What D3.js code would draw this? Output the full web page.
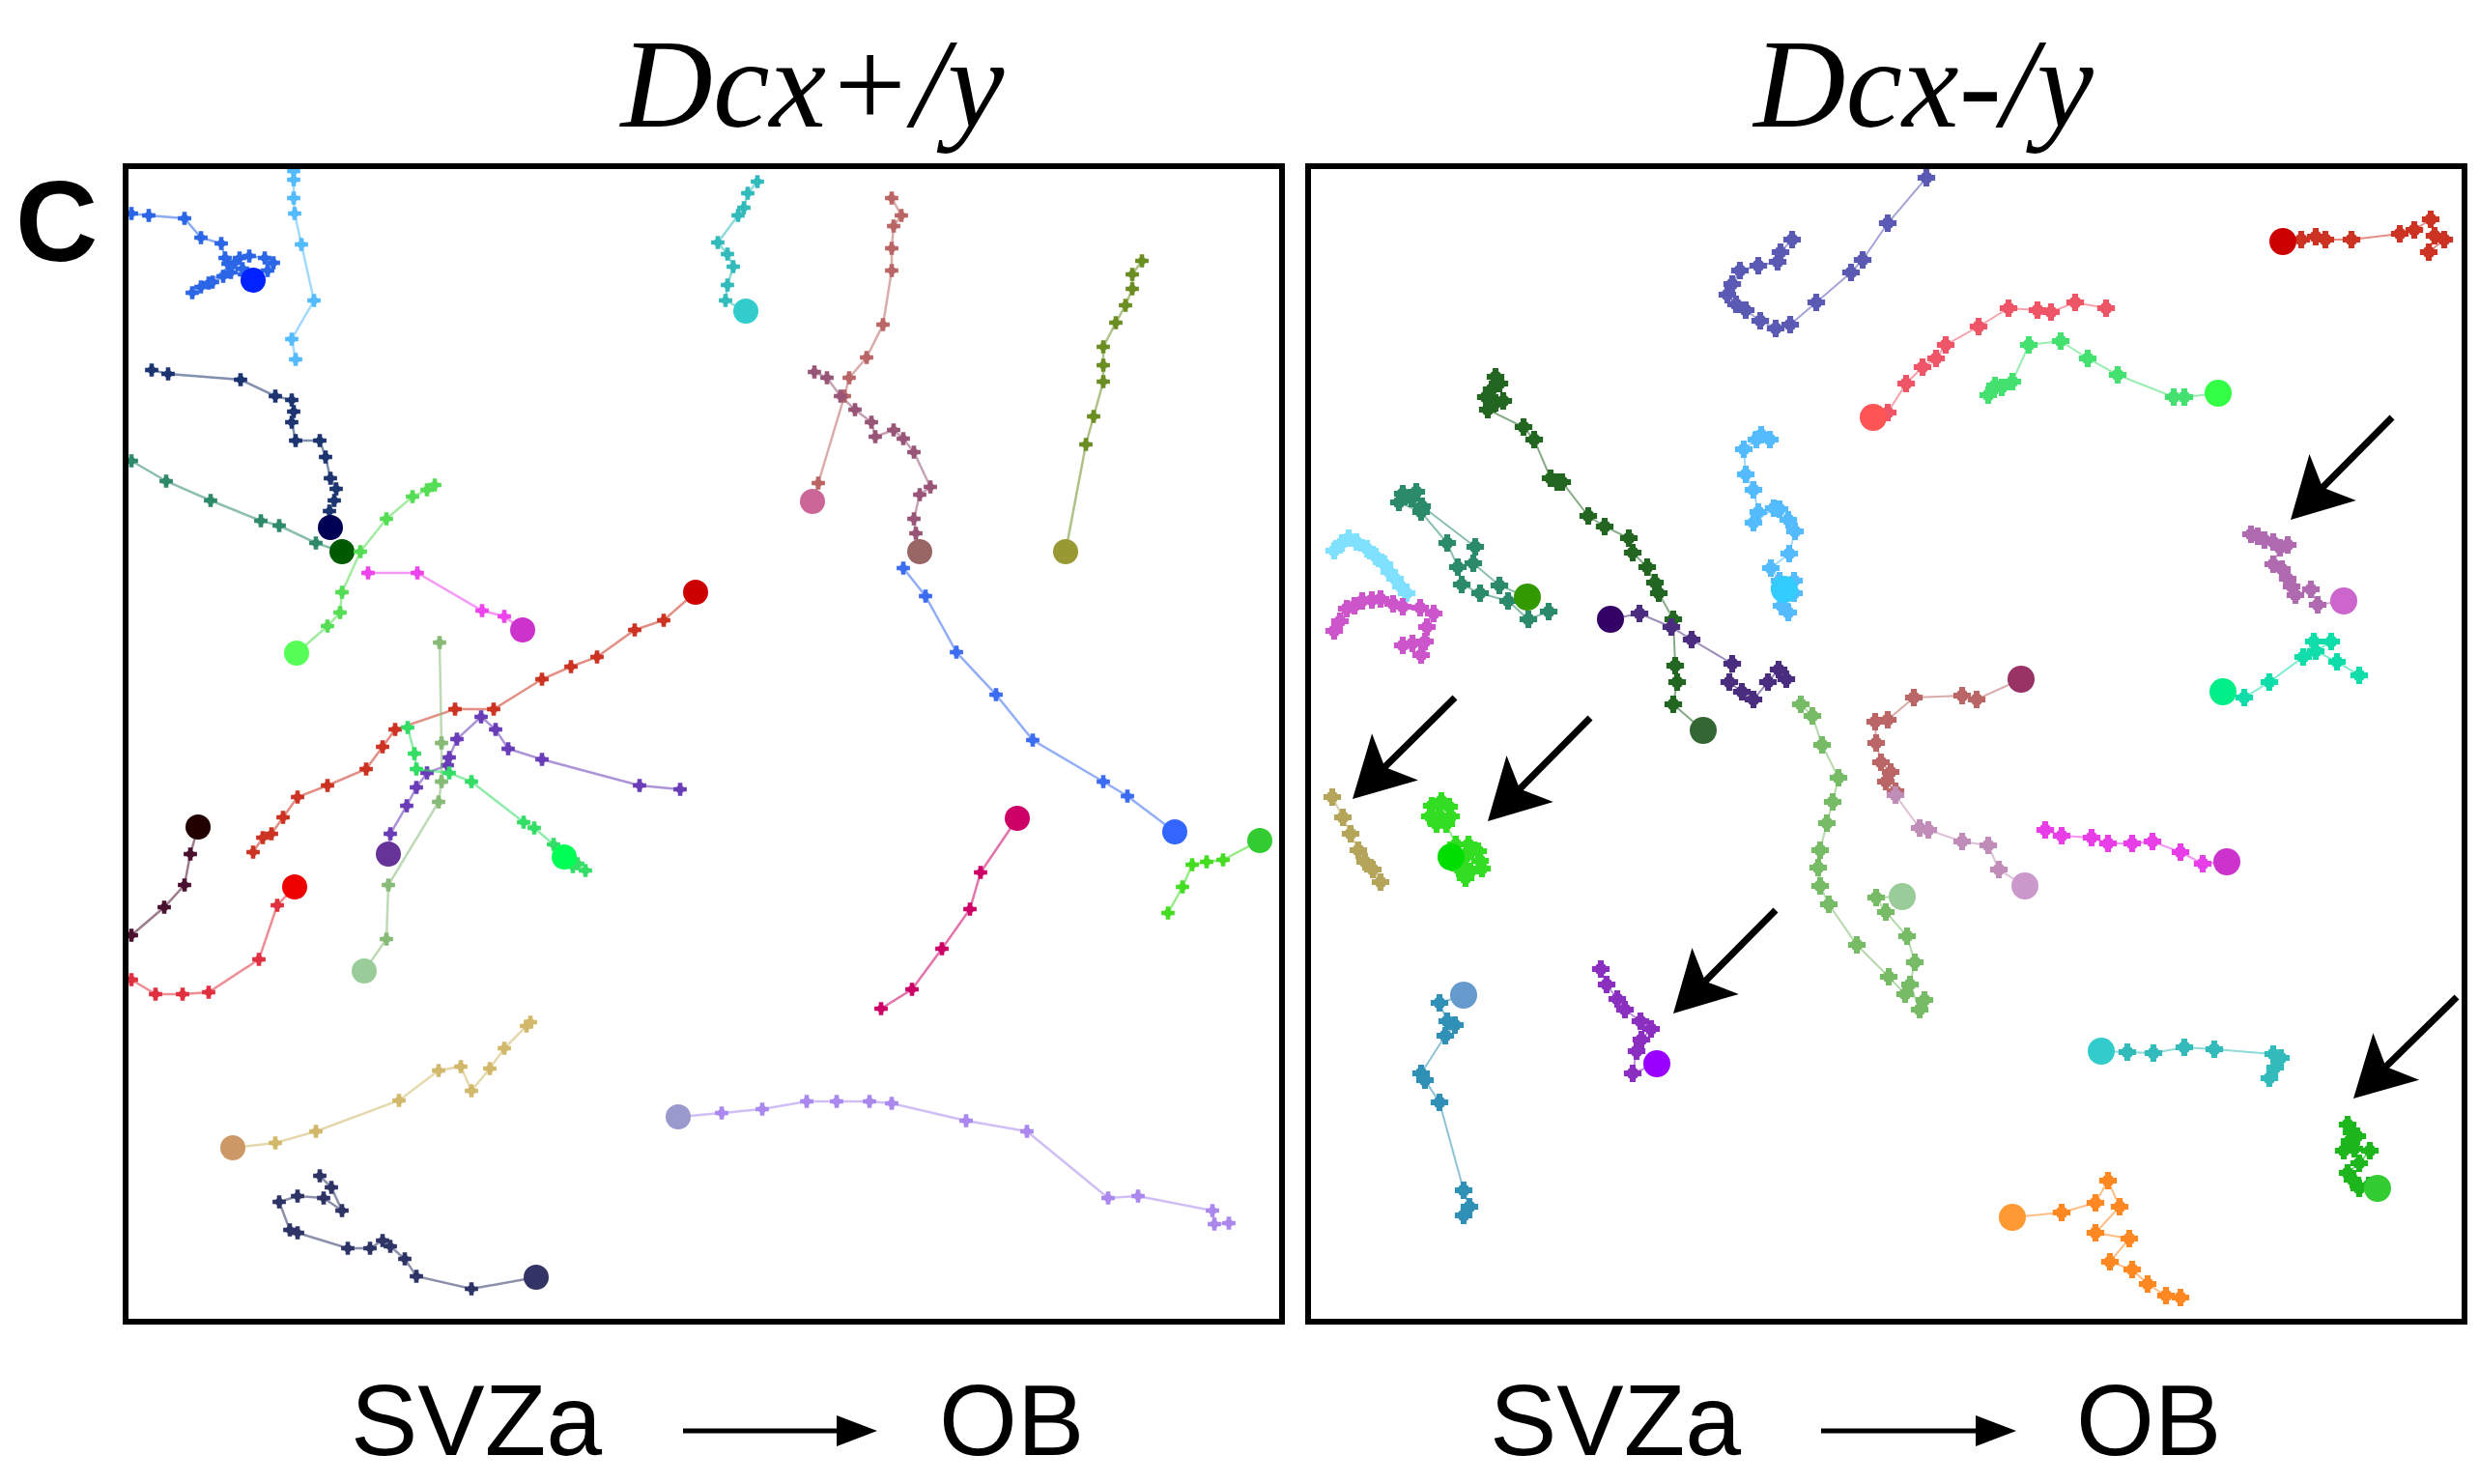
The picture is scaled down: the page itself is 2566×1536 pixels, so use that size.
<!DOCTYPE html>
<html><head><meta charset="utf-8">
<script src="https://cdn.jsdelivr.net/npm/d3@7"></script>
<style>html,body{margin:0;padding:0;background:#fff;overflow:hidden}</style>
</head><body><svg id="c" width="2566" height="1536"></svg>
<script>
// ---------- DATA ----------
const panelTitles = ["Dcx+/y", "Dcx-/y"];
const panelLetter = "C";
const axisLabels = ["SVZa", "OB"];

// Left panel (Dcx+/y) tracks, coordinates in field units (0..1200, y down); big dot = last point
const leftTracks = [
  [[8,52],[26,54],[63,57],[80,77],[101,83],[105,98],[115,103],[130,96],[146,98],[155,103],[149,111],[123,109],[103,117],[108,104],[120,98],[88,124],[71,134],[80,128],[92,123],[111,113],[125,115],[134,121]],
  [[176,8],[176,17],[176,36],[177,52],[184,84],[197,142],[174,182],[178,203]],
  [[29,214],[46,218],[121,224],[157,241],[174,245],[176,257],[174,268],[178,287],[203,287],[209,304],[214,326],[220,337],[218,349],[213,360],[214,377]],
  [[8,308],[44,329],[90,349],[142,370],[161,375],[199,393],[226,402]],
  [[322,333],[314,338],[299,345],[272,368],[245,402],[226,444],[224,465],[211,479],[179,507]],
  [[253,424],[304,424],[371,463],[394,469],[413,483]],
  [[134,713],[144,698],[153,694],[165,677],[180,656],[211,644],[251,627],[268,604],[281,586],[343,565],[383,565],[433,534],[463,521],[490,511],[529,483],[559,473],[592,444]],
  [[576,648],[534,644],[433,617],[398,606],[385,586],[370,573],[345,596],[337,615],[335,623],[314,631],[303,646],[293,665],[276,694],[274,715]],
  [[327,496],[329,600],[329,640],[326,661],[274,747],[272,803],[249,836]],
  [[294,584],[301,611],[303,627],[337,631],[360,640],[414,682],[425,688],[445,705],[470,725],[478,732],[465,728],[456,718]],
  [[8,799],[42,770],[63,747],[69,715],[77,687]],
  [[8,845],[33,860],[61,860],[88,858],[140,824],[159,768],[177,749]],
  [[421,889],[417,893],[394,916],[379,937],[360,960],[349,935],[326,939],[285,970],[199,1002],[157,1014],[113,1019]],
  [[203,1048],[215,1060],[226,1084],[207,1071],[180,1069],[161,1075],[172,1104],[180,1107],[232,1123],[255,1123],[268,1115],[276,1121],[291,1134],[303,1152],[360,1165],[427,1153]],
  [[1144,1097],[1129,1098],[1127,1084],[1050,1069],[1019,1071],[935,1002],[872,991],[795,973],[772,971],[738,971],[707,971],[661,979],[619,983],[574,987]],
  [[656,19],[646,31],[642,46],[636,54],[615,82],[625,94],[631,107],[625,126],[623,142],[644,153]],
  [[795,36],[805,54],[797,65],[795,88],[795,111],[786,167],[769,201],[751,222],[746,241],[719,331],[713,350]],
  [[715,216],[728,222],[742,241],[757,255],[774,268],[778,283],[797,276],[807,285],[818,299],[835,335],[824,343],[818,368],[820,383],[824,402]],
  [[1054,101],[1044,115],[1044,130],[1037,147],[1027,165],[1014,190],[1014,209],[1014,226],[1004,262],[996,291],[975,402]],
  [[807,419],[830,448],[862,506],[903,550],[941,597],[1014,640],[1039,655],[1088,692]],
  [[784,875],[816,855],[847,813],[876,772],[887,734],[925,678]],
  [[1081,776],[1096,749],[1106,726],[1121,723],[1138,721],[1176,701]]
];
const leftHasDot = [1,0,1,1,1,1,1,1,1,1,1,1,1,1,1,1,1,1,1,1,1,1];

// Right panel (Dcx-/y) tracks
const rightTracks = [
  [[642,15],[602,62],[576,100],[564,113],[528,144],[501,167],[486,171],[470,163],[455,152],[445,146],[436,136],[441,125],[449,111],[468,106],[488,102],[491,92],[503,79]],
  [[196,221],[200,228],[192,234],[186,242],[196,248],[204,246],[188,255],[225,273],[236,286],[253,326],[260,330],[265,330],[292,365],[309,376],[334,388],[338,403],[353,418],[361,434],[365,445],[380,472],[382,520],[384,537],[380,560],[411,587]],
  [[251,464],[230,472],[209,453],[180,445],[161,436],[157,418],[146,393],[119,361],[96,351],[109,347],[114,340],[100,342],[120,355],[175,397],[173,414],[200,437],[229,449]],
  [[29,401],[37,393],[44,388],[52,392],[63,399],[72,407],[81,415],[86,423],[92,430],[98,438],[104,445]],
  [[29,484],[35,474],[42,461],[50,458],[58,453],[68,452],[77,451],[90,456],[100,459],[118,460],[132,466],[125,480],[123,495],[110,497],[100,499],[119,509]],
  [[497,534],[489,524],[478,537],[463,555],[451,547],[438,537],[441,518],[399,493],[378,480],[345,466],[315,472]],
  [[512,560],[524,572],[534,602],[551,636],[545,661],[539,683],[532,711],[530,729],[532,748],[541,767],[570,809],[603,842],[620,860],[640,866],[635,876],[625,850],[630,827],[622,800],[600,775],[590,760],[617,759]],
  [[471,281],[480,286],[466,286],[453,296],[455,322],[463,338],[468,361],[463,372],[484,357],[490,358],[499,369],[506,381],[500,404],[481,419],[490,432],[505,432],[490,440],[505,445],[492,458],[499,465],[495,441]],
  [[1178,79],[1162,92],[1168,75],[1164,58],[1147,69],[1132,73],[1082,79],[1055,79],[1045,76],[1030,79],[1011,81]],
  [[828,150],[796,144],[771,154],[757,152],[727,150],[696,169],[662,188],[652,202],[638,211],[621,228],[602,258],[587,263]],
  [[706,240],[713,230],[720,232],[731,226],[748,188],[781,184],[809,202],[840,219],[898,242],[909,242],[944,238]],
  [[978,384],[985,386],[992,390],[1001,392],[1016,395],[1008,398],[1001,415],[1010,420],[1016,430],[1020,438],[1024,447],[1040,441],[1047,457],[1074,453]],
  [[1090,530],[1067,516],[1045,505],[1061,495],[1043,495],[1032,511],[997,537],[971,553],[949,547]],
  [[600,640],[610,650],[605,630],[595,620],[590,600],[589,578],[602,576],[629,553],[679,551],[694,555],[740,534]],
  [[610,654],[635,688],[644,690],[679,702],[706,706],[717,731],[744,748]],
  [[27,656],[38,677],[46,694],[54,711],[61,723],[69,731],[77,744]],
  [[130,665],[140,660],[148,666],[128,676],[138,675],[150,676],[135,684],[145,684],[155,705],[168,705],[178,712],[165,718],[180,722],[158,730],[170,733],[182,730],[165,740],[150,718]],
  [[163,1089],[169,1080],[163,1063],[138,972],[123,949],[119,942],[144,903],[154,892],[146,888],[138,869],[163,861]],
  [[305,834],[311,850],[322,865],[330,876],[346,888],[357,896],[347,907],[342,919],[338,942],[363,932]],
  [[765,690],[782,696],[813,698],[830,704],[855,704],[876,702],[905,713],[928,725],[953,723]],
  [[997,947],[1003,936],[1009,926],[1001,922],[940,917],[909,915],[877,921],[850,920],[823,919]],
  [[1078,995],[1082,1003],[1088,1007],[1080,1012],[1074,1022],[1085,1020],[1101,1022],[1090,1035],[1078,1045],[1083,1052],[1090,1061],[1100,1058],[1109,1061]],
  [[905,1174],[890,1172],[871,1160],[855,1145],[832,1137],[852,1113],[817,1107],[842,1080],[830,1053],[817,1076],[782,1086],[731,1091]]
];
const rightHasDot = [0,1,1,0,0,1,1,1,1,1,1,1,1,1,1,0,1,1,1,1,1,1,1];

// Arrows in the right panel: [startX, startY, tipX, tipY]
const rightArrows = [
  [1124,263,1019,369],
  [154,553,48,658],
  [294,574,188,681],
  [486,773,380,880],
  [1191,863,1084,968]
];

// ---------- STYLE ----------
const leftColors = ["#2a66e6","#55bbff","#1c3570","#2e8a68","#55dd55","#ee44ee","#cc3322","#6a3db8","#88bb77","#33dd66","#4a1030","#e03040","#d2b86a","#2e3466","#aa88ee","#33bbbb","#bb6666","#995577","#6b8e23","#3b6cf2","#cc0066","#44dd22"];
const leftDotColors = ["#0022ff","#55bbff","#000055","#005a00","#55ff55","#cc33cc","#cc0000","#663399","#99cc99","#00ff55","#220000","#ee0000","#cc9966","#333366","#9999cc","#33cccc","#cc6699","#996666","#999933","#3366ff","#cc0066","#33cc33"];
const rightColors = ["#5a5ab5","#226622","#2a8a6a","#80e0ff","#cc55cc","#4b2d7f","#77bb66","#55bbff","#cc3322","#ee5566","#44e070","#b06ab0","#11ddaa","#bb6666","#c08cb8","#b5a55a","#33dd22","#3190b5","#8a2fbf","#e83ee8","#33bbbb","#1db61d","#ff8822"];
const rightDotColors = ["#5a5ab5","#336633","#339900","#80e0ff","#cc55cc","#330066","#99cc99","#33ccff","#cc0000","#ff5555","#33ff44","#cc66cc","#00ee88","#993366","#cc99cc","#b5a55a","#00dd00","#6699cc","#9900ff","#cc33cc","#33cccc","#33cc33","#ff9933"];

const svg = d3.select("#c");
svg.append("rect").attr("width",2566).attr("height",1536).attr("fill","#fff");

const panels = [
  {x0:128, tracks:leftTracks, dots:leftHasDot, colors:leftColors, dotColors:leftDotColors, arrows:[], title:panelTitles[0], titleX:841,
   labelX:[363,972], arrowX:[707,908], msize:105, mr:4, lw:2.5, dr:13},
  {x0:1352, tracks:rightTracks, dots:rightHasDot, colors:rightColors, dotColors:rightDotColors, arrows:rightArrows, title:panelTitles[1], titleX:1991,
   labelX:[1542,2149], arrowX:[1885,2087], msize:185, mr:6.5, lw:2, dr:14}
];

panels.forEach((p, pi) => {
  const x = d3.scaleLinear().domain([0,1200]).range([p.x0, p.x0+1200]);
  const y = d3.scaleLinear().domain([0,1200]).range([169, 1369]);
  const clipId = "clip" + pi;
  svg.append("clipPath").attr("id", clipId).append("rect")
    .attr("x", x(0)+4).attr("y", y(0)+5).attr("width", 1190).attr("height", 1193);
  const g = svg.append("g").attr("clip-path", `url(#${clipId})`);
  const line = d3.line().x(d=>x(d[0])).y(d=>y(d[1]));
  const sym = d3.symbol().type(d3.symbolCross).size(p.msize);

  p.tracks.forEach((t, i) => {
    const tg = g.append("g");
    tg.append("path").attr("d", line(t)).attr("fill","none")
      .attr("stroke", p.colors[i]).attr("stroke-width", p.lw).attr("stroke-opacity", 0.55);
    const pts = p.dots[i] ? t.slice(0, -1) : t;
    tg.selectAll("path.m").data(pts).join("path").attr("class","m")
      .attr("d", sym).attr("transform", d => `translate(${x(d[0])},${y(d[1])})`)
      .attr("fill", p.colors[i]);
    tg.selectAll("circle.m2").data(pts).join("circle").attr("class","m2")
      .attr("cx", d=>x(d[0])).attr("cy", d=>y(d[1])).attr("r", p.mr).attr("fill", p.colors[i]);
    if (p.dots[i]) {
      const last = t[t.length-1];
      tg.append("circle").attr("cx", x(last[0])).attr("cy", y(last[1])).attr("r", p.dr)
        .attr("fill", p.dotColors[i]);
    }
  });

  // annotation arrows
  p.arrows.forEach(a => {
    const sx = x(a[0]), sy = y(a[1]), tx = x(a[2]), ty = y(a[3]);
    const dx = tx - sx, dy = ty - sy, L = Math.hypot(dx, dy);
    const ux = dx / L, uy = dy / L, nx = -uy, ny = ux;
    g.append("line").attr("x1", sx).attr("y1", sy).attr("x2", tx - ux*45).attr("y2", ty - uy*45)
      .attr("stroke", "#000").attr("stroke-width", 7);
    const head = [[tx, ty], [tx - ux*62 + nx*34, ty - uy*62 + ny*34], [tx - ux*47, ty - uy*47], [tx - ux*62 - nx*34, ty - uy*62 - ny*34]];
    g.append("path").attr("d", "M" + head.map(h => h.join(",")).join("L") + "Z").attr("fill", "#000");
  });

  // frame
  svg.append("rect").attr("x", x(0)+2).attr("y", y(0)+3).attr("width", 1197).attr("height", 1196)
    .attr("fill","none").attr("stroke","#000").attr("stroke-width", 6);

  // title
  svg.append("text").attr("x", p.titleX).attr("y", 131).attr("text-anchor","middle")
    .attr("font-family","'Liberation Serif', 'Times New Roman', serif").attr("font-style","italic")
    .attr("font-size", 132).attr("fill","#000").text(p.title);

  // bottom labels
  svg.append("text").attr("x", p.labelX[0]).attr("y", 1506)
    .attr("font-family","'Liberation Sans', Arial, sans-serif").attr("font-size", 104).attr("fill","#000").text(axisLabels[0]);
  svg.append("text").attr("x", p.labelX[1]).attr("y", 1506)
    .attr("font-family","'Liberation Sans', Arial, sans-serif").attr("font-size", 104).attr("fill","#000").text(axisLabels[1]);
  svg.append("line").attr("x1", p.arrowX[0]).attr("x2", p.arrowX[1]-30).attr("y1", 1481).attr("y2", 1481)
    .attr("stroke","#000").attr("stroke-width", 5);
  svg.append("path").attr("d", `M${p.arrowX[1]},1481L${p.arrowX[1]-42},1465L${p.arrowX[1]-42},1497Z`).attr("fill","#000");
});

svg.append("text").attr("x", 16).attr("y", 270)
  .attr("font-family","'Liberation Sans', Arial, sans-serif").attr("font-weight","bold")
  .attr("font-size", 118).attr("fill","#000").text(panelLetter);
</script>
</body></html>
